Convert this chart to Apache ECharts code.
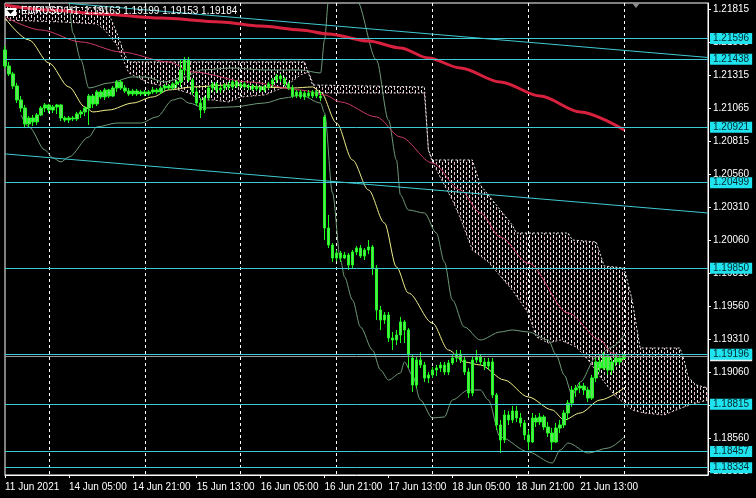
<!DOCTYPE html>
<html><head><meta charset="utf-8">
<script src="https://cdn.jsdelivr.net/npm/echarts@6/dist/echarts.min.js"></script>
<style>html,body{margin:0;padding:0;background:#000;}#c{width:756px;height:498px;}</style>
</head><body><div id="c"></div>
<script>
// ---- x axis (H1 bars, index 0 = 11 Jun 2021 13:00) ----
const barCount = 177;
const xTickIndex = [0,16,32,48,64,80,96,112,128,144];
const xTickLabels = ['11 Jun 2021','14 Jun 05:00','14 Jun 21:00','15 Jun 13:00','16 Jun 05:00','16 Jun 21:00','17 Jun 13:00','18 Jun 05:00','18 Jun 21:00','21 Jun 13:00'];
const dayGridIndex = [11,35,59,83,107,131,155];
// ---- y axis ----
const yMin = 1.18278, yMax = 1.21865;
const yTicks = [1.21815,1.21565,1.21315,1.21065,1.20815,1.20560,1.20310,1.20060,1.19810,1.19560,1.19310,1.19060,1.18810,1.18560,1.18310];
// ---- horizontal levels, bid ----
const levels = [1.21596,1.21438,1.20921,1.20499,1.19850,1.19196,1.18815,1.18457,1.18334];
const bid = 1.19184;
// ---- trend lines [barIndex, price] ----
const trendUpper = [[16,1.21862],[176,1.21451]];
const trendLower = [[0,1.20718],[176,1.20269]];
// ---- candles: [open, close, low, high] ----
const ohlc = [
[1.21508,1.21386,1.21371,1.21538],[1.21386,1.21326,1.21310,1.21417],[1.21326,1.21234,1.21212,1.21341],[1.21234,1.21128,1.21105,1.21257],
[1.21128,1.21067,1.21037,1.21158],[1.21067,1.20946,1.20915,1.21090],[1.20946,1.20991,1.20923,1.21006],[1.20991,1.20961,1.20930,1.21014],
[1.20961,1.21014,1.20938,1.21029],[1.21014,1.21067,1.21006,1.21082],[1.21067,1.21090,1.21037,1.21105],[1.21090,1.21052,1.21029,1.21098],
[1.21052,1.21075,1.21029,1.21090],[1.21075,1.21090,1.21022,1.21098],[1.21090,1.20991,1.20968,1.21098],[1.20991,1.20976,1.20961,1.21006],
[1.20976,1.20991,1.20953,1.21006],[1.20991,1.20984,1.20968,1.21006],[1.20984,1.21022,1.20968,1.21037],[1.21022,1.21037,1.20991,1.21052],
[1.21037,1.21067,1.21006,1.21082],[1.21067,1.21158,1.20938,1.21174],[1.21158,1.21098,1.21067,1.21174],[1.21098,1.21189,1.21082,1.21204],
[1.21189,1.21151,1.21136,1.21204],[1.21151,1.21204,1.21128,1.21219],[1.21204,1.21158,1.21143,1.21212],[1.21158,1.21219,1.21151,1.21234],
[1.21219,1.21265,1.21189,1.21280],[1.21265,1.21219,1.21204,1.21280],[1.21219,1.21196,1.21181,1.21242],[1.21196,1.21174,1.21158,1.21219],
[1.21174,1.21196,1.21158,1.21212],[1.21196,1.21174,1.21158,1.21212],[1.21174,1.21189,1.21158,1.21204],[1.21189,1.21174,1.21158,1.21204],
[1.21174,1.21189,1.21158,1.21204],[1.21189,1.21204,1.21174,1.21227],[1.21204,1.21189,1.21174,1.21219],[1.21189,1.21219,1.21174,1.21234],
[1.21219,1.21234,1.21196,1.21250],[1.21234,1.21219,1.21204,1.21250],[1.21219,1.21250,1.21204,1.21265],[1.21250,1.21265,1.21219,1.21280],
[1.21265,1.21356,1.21227,1.21432],[1.21356,1.21432,1.21326,1.21455],[1.21432,1.21280,1.21265,1.21455],[1.21280,1.21189,1.21166,1.21295],
[1.21189,1.21105,1.21082,1.21219],[1.21105,1.21052,1.20991,1.21143],[1.21052,1.21143,1.21029,1.21158],[1.21143,1.21219,1.21128,1.21234],
[1.21219,1.21250,1.21189,1.21265],[1.21250,1.21204,1.21181,1.21265],[1.21204,1.21219,1.21181,1.21242],[1.21219,1.21242,1.21196,1.21257],
[1.21242,1.21227,1.21204,1.21265],[1.21227,1.21265,1.21212,1.21280],[1.21265,1.21234,1.21219,1.21280],[1.21234,1.21250,1.21219,1.21265],
[1.21250,1.21227,1.21212,1.21265],[1.21227,1.21234,1.21204,1.21250],[1.21234,1.21212,1.21196,1.21250],[1.21212,1.21227,1.21196,1.21242],
[1.21227,1.21204,1.21189,1.21234],[1.21204,1.21227,1.21189,1.21242],[1.21227,1.21250,1.21212,1.21265],[1.21250,1.21280,1.21227,1.21295],
[1.21280,1.21310,1.21257,1.21326],[1.21310,1.21288,1.21265,1.21326],[1.21288,1.21250,1.21234,1.21303],[1.21250,1.21219,1.21204,1.21265],
[1.21219,1.21158,1.21143,1.21242],[1.21158,1.21189,1.21143,1.21204],[1.21189,1.21151,1.21136,1.21204],[1.21151,1.21181,1.21128,1.21196],
[1.21181,1.21158,1.21143,1.21204],[1.21158,1.21189,1.21143,1.21204],[1.21189,1.21158,1.21143,1.21204],[1.21158,1.21143,1.21120,1.21189],
[1.20999,1.20155,1.20064,1.21014],[1.20155,1.20026,1.20003,1.20254],[1.20026,1.19927,1.19897,1.20041],[1.19927,1.19965,1.19904,1.19988],
[1.19965,1.19927,1.19897,1.19980],[1.19927,1.19950,1.19920,1.19973],[1.19950,1.19874,1.19836,1.19965],[1.19874,1.19973,1.19851,1.19988],
[1.19973,1.20003,1.19950,1.20018],[1.20003,1.19942,1.19927,1.20026],[1.19942,1.19988,1.19912,1.20003],[1.19988,1.20011,1.19957,1.20064],
[1.20011,1.19851,1.19798,1.20026],[1.19851,1.19532,1.19456,1.19874],[1.19532,1.19456,1.19380,1.19562],[1.19456,1.19494,1.19426,1.19517],
[1.19494,1.19319,1.19289,1.19517],[1.19319,1.19304,1.19228,1.19365],[1.19304,1.19342,1.19266,1.19380],[1.19342,1.19441,1.19281,1.19479],
[1.19441,1.19380,1.19281,1.19456],[1.19380,1.19190,1.19091,1.19395],[1.19167,1.18962,1.18909,1.19190],[1.18962,1.19152,1.18939,1.19182],
[1.19152,1.19114,1.19091,1.19213],[1.19114,1.19015,1.18985,1.19137],[1.19015,1.19038,1.18977,1.19061],[1.19038,1.19076,1.19015,1.19099],
[1.19076,1.19091,1.19030,1.19114],[1.19091,1.19114,1.19061,1.19137],[1.19114,1.19061,1.19038,1.19137],[1.19061,1.19129,1.19038,1.19152],
[1.19129,1.19167,1.19114,1.19190],[1.19167,1.19198,1.19137,1.19228],[1.19198,1.19152,1.19129,1.19228],[1.19152,1.19061,1.19038,1.19175],
[1.19061,1.18901,1.18863,1.19091],[1.18901,1.19152,1.18878,1.19182],[1.19152,1.19175,1.19129,1.19228],[1.19175,1.19137,1.19114,1.19198],
[1.19137,1.19106,1.19076,1.19167],[1.19106,1.19137,1.19076,1.19167],[1.19137,1.18886,1.18863,1.19167],[1.18886,1.18658,1.18620,1.18901],
[1.18658,1.18544,1.18445,1.18696],[1.18544,1.18734,1.18521,1.18772],[1.18734,1.18696,1.18658,1.18764],[1.18696,1.18764,1.18673,1.18802],
[1.18764,1.18711,1.18681,1.18802],[1.18711,1.18673,1.18643,1.18749],[1.18673,1.18582,1.18544,1.18696],[1.18582,1.18529,1.18468,1.18620],
[1.18529,1.18711,1.18521,1.18749],[1.18711,1.18681,1.18643,1.18734],[1.18681,1.18719,1.18658,1.18749],[1.18719,1.18643,1.18620,1.18734],
[1.18643,1.18597,1.18567,1.18681],[1.18597,1.18529,1.18468,1.18635],[1.18529,1.18635,1.18521,1.18673],[1.18635,1.18658,1.18597,1.18696],
[1.18658,1.18749,1.18635,1.18772],[1.18749,1.18825,1.18696,1.18848],[1.18825,1.18924,1.18795,1.18954],[1.18924,1.18939,1.18871,1.18962],
[1.18939,1.18954,1.18901,1.18985],[1.18954,1.18924,1.18886,1.18977],[1.18924,1.18863,1.18833,1.18947],[1.18863,1.19015,1.18848,1.19038],
[1.19015,1.19137,1.18985,1.19167],[1.19137,1.19091,1.19061,1.19182],[1.19091,1.19182,1.19076,1.19213],[1.19182,1.19076,1.19038,1.19198],
[1.19076,1.19137,1.19038,1.19167],[1.19137,1.19167,1.19106,1.19190],[1.19167,1.19137,1.19114,1.19198],[1.19163,1.19184,1.19153,1.19199]
];
// ---- moving averages [barIndex, price] ----
const maSlow = [[0,1.21850],[11,1.21812],[24,1.21782],[39,1.21751],[54,1.21721],[64,1.21690],[74,1.21660],[81,1.21630],[91,1.21576],[99,1.21523],[106,1.21447],[114,1.21371],[124,1.21265],[134,1.21158],[144,1.21037],[155,1.20900]];
const maMid = [[0,1.21759],[9,1.21660],[19,1.21569],[29,1.21493],[41,1.21417],[47,1.21341],[61,1.21265],[74,1.21204],[80,1.21166],[84,1.21113],[93,1.20999],[99,1.20847],[107,1.20649],[114,1.20444],[119,1.20269],[124,1.20087],[131,1.19889],[141,1.19509],[149,1.19304],[152,1.19205],[155,1.19137]];
const maFast = [[0,1.21751],[6,1.21584],[11,1.21409],[16,1.21227],[20,1.21075],[22,1.21037],[26,1.21052],[32,1.21105],[37,1.21151],[41,1.21204],[47,1.21227],[56,1.21242],[64,1.21227],[72,1.21219],[77,1.21227],[79,1.21189],[83,1.20953],[87,1.20672],[91,1.20444],[95,1.20193],[98,1.19859],[101,1.19661],[107,1.19433],[111,1.19228],[115,1.19137],[119,1.19114],[125,1.19000],[131,1.18871],[137,1.18772],[140,1.18696],[144,1.18749],[149,1.18848],[155,1.18939]];
// ---- Bollinger bands [barIndex, price] ----
const bbUpper = [[16,1.21903],[17,1.21637],[19,1.21432],[21,1.21219],[26,1.21257],[32,1.21303],[35,1.21303],[40,1.21265],[45,1.21303],[49,1.21356],[57,1.21371],[65,1.21356],[74,1.21356],[79,1.21333],[80,1.21584],[81,1.21888],[84,1.22344],[86,1.22192],[88,1.21888],[93,1.21432],[96,1.20976],[98,1.20672],[99,1.20406],[101,1.20292],[105,1.20269],[108,1.20117],[110,1.19897],[112,1.19608],[115,1.19403],[119,1.19304],[124,1.19365],[127,1.19380],[131,1.19365],[136,1.19304],[138,1.19190],[140,1.19038],[142,1.18886],[144,1.18985],[148,1.19175],[152,1.19251],[155,1.19342]];
const bbLower = [[4,1.21014],[6,1.20923],[10,1.20748],[12,1.20687],[14,1.20657],[16,1.20695],[21,1.20847],[23,1.20923],[28,1.20953],[34,1.20953],[38,1.20999],[42,1.21128],[44,1.21143],[46,1.21105],[50,1.21067],[57,1.21075],[65,1.21105],[70,1.21143],[74,1.21166],[79,1.21105],[80,1.21029],[82,1.20421],[84,1.19912],[85,1.19783],[87,1.19608],[89,1.19403],[92,1.19228],[94,1.19076],[96,1.19000],[99,1.19053],[100,1.19137],[102,1.19038],[104,1.18848],[107,1.18711],[110,1.18719],[112,1.18848],[116,1.18924],[119,1.18924],[121,1.18848],[124,1.18567],[131,1.18453],[137,1.18369],[139,1.18468],[141,1.18521],[146,1.18445],[151,1.18483],[155,1.18567]];
// ---- Ichimoku cloud spans [barIndex, price] ----
const senkouA = [[0,1.21736],[14,1.21721],[23,1.21706],[25,1.21660],[28,1.21546],[31,1.21333],[36,1.21257],[41,1.21227],[46,1.21181],[49,1.21128],[52,1.21128],[56,1.21113],[59,1.21151],[65,1.21166],[70,1.21227],[74,1.21318],[76,1.21341],[78,1.21181],[105,1.21181],[106,1.20748],[107,1.20657],[110,1.20482],[112,1.20368],[114,1.20231],[117,1.19988],[121,1.19897],[127,1.19684],[131,1.19509],[133,1.19327],[136,1.19281],[139,1.19304],[143,1.19251],[146,1.19152],[150,1.18985],[153,1.18871],[155,1.18825],[157,1.18772],[160,1.18749],[165,1.18734],[168,1.18772],[170,1.18795],[173,1.18825],[176,1.18848]];
const senkouB = [[0,1.21842],[25,1.21827],[26,1.21782],[28,1.21637],[30,1.21470],[31,1.21417],[75,1.21417],[77,1.21242],[105,1.21227],[106,1.20748],[107,1.20672],[117,1.20672],[119,1.20482],[122,1.20368],[127,1.20178],[128,1.20117],[141,1.20117],[142,1.20064],[148,1.20049],[150,1.19866],[155,1.19851],[157,1.19608],[159,1.19243],[169,1.19243],[170,1.19152],[171,1.19023],[173,1.18962],[176,1.18939]];

const categories = [];
for (let i = 0; i < barCount; i++) categories.push(String(i));

const FONT = '"Liberation Sans", Arial, sans-serif';
const LEVEL_LINE = '#3fc9d2', LEVEL_BOX = '#1fe3ee';

// hatch pattern for the cloud (sparse vertical dashes)
const pc = document.createElement('canvas');
pc.width = 6; pc.height = 5;
const pctx = pc.getContext('2d');
pctx.fillStyle = '#f0eaec'; pctx.fillRect(1, 0, 1, 3);
pctx.fillStyle = '#e8bccb'; pctx.fillRect(4, 2, 1, 3);
const cloudPattern = { image: pc, repeat: 'repeat' };

const chart = echarts.init(document.getElementById('c'), null, { renderer: 'canvas' });

const levelMarks = [{ yAxis: bid, lineStyle: { color: '#9a9a9a' }, label: { backgroundColor: '#f0f0f0', color: '#000' } }]
  .concat(levels.map(v => ({ yAxis: v })));
const trendMarks = [trendUpper, trendLower].map(t => [
  { coord: t[0], lineStyle: { color: LEVEL_LINE, width: 1, type: 'solid' }, label: { show: false } },
  { coord: t[1] }
]);

const lineSeries = (data, color, width) => ({
  type: 'line', data: data, showSymbol: false, symbol: 'none', smooth: 0.3, smoothMonotone: 'x',
  lineStyle: { color: color, width: width }, silent: true, z: 3
});

chart.setOption({
  backgroundColor: '#000',
  animation: false,
  grid: { left: 5, right: 48, top: 3, bottom: 23, show: true, borderColor: '#ffffff', borderWidth: 1, backgroundColor: 'transparent' },
  xAxis: {
    type: 'category', data: categories, boundaryGap: false,
    axisLine: { show: true, lineStyle: { color: '#ffffff' } },
    axisTick: { show: true, interval: (i) => xTickIndex.includes(i), length: 3, lineStyle: { color: '#ffffff' } },
    axisLabel: {
      interval: (i) => xTickIndex.includes(i),
      formatter: (v, i) => { const k = xTickIndex.indexOf(Number(v)); return k >= 0 ? xTickLabels[k] : ''; },
      color: '#ffffff', align: 'left', fontSize: 10, margin: 7, fontFamily: FONT
    },
    splitLine: { show: true, interval: (i) => dayGridIndex.includes(i), lineStyle: { color: '#ffffff', type: [3, 3], width: 1 } }
  },
  yAxis: {
    type: 'value', position: 'right', min: yMin, max: yMax, scale: true,
    axisLine: { show: true, lineStyle: { color: '#ffffff' } },
    axisTick: { show: true, customValues: yTicks, length: 3, lineStyle: { color: '#ffffff' } },
    axisLabel: { customValues: yTicks, formatter: v => v.toFixed(5), color: '#ffffff', fontSize: 10, margin: 5, fontFamily: FONT },
    splitLine: { show: false }
  },
  series: [
    {
      type: 'custom', silent: true, z: 1,
      data: [[0, senkouA[0][1]]],
      renderItem: (params, api) => {
        const a = senkouA.map(p => api.coord(p));
        const b = senkouB.map(p => api.coord(p));
        const cs = params.coordSys;
        return {
          type: 'group',
          clipPath: { type: 'rect', shape: { x: cs.x, y: cs.y, width: cs.width, height: cs.height } },
          children: [
            { type: 'polygon', shape: { points: a.concat(b.slice().reverse()) }, style: { fill: cloudPattern } },
            { type: 'polyline', shape: { points: a }, style: { stroke: '#e2c4cc', lineWidth: 1, lineDash: [2, 2], fill: null } },
            { type: 'polyline', shape: { points: b }, style: { stroke: '#eeeeee', lineWidth: 1, lineDash: [2, 2], fill: null } }
          ]
        };
      }
    },
    lineSeries(bbUpper, '#6f9a78', 1),
    lineSeries(bbLower, '#6f9a78', 1),
    lineSeries(maFast, '#f2f08a', 1),
    lineSeries(maMid, '#cc3a66', 1),
    lineSeries(maSlow, '#d8213f', 3),
    {
      type: 'candlestick', data: ohlc, barWidth: 3, z: 4,
      itemStyle: { color: '#5fe05f', color0: '#5fe05f', borderColor: '#1cff1c', borderColor0: '#1cff1c', borderWidth: 1 },
      markLine: {
        silent: true, symbol: 'none', animation: false, precision: 5,
        lineStyle: { color: LEVEL_LINE, width: 1, type: 'solid' },
        label: {
          show: true, position: 'end', distance: 2, formatter: p => Number(p.value).toFixed(5),
          backgroundColor: LEVEL_BOX, color: '#06262b', fontSize: 10, fontFamily: FONT, padding: [1, 3, 0, 3]
        },
        data: levelMarks.concat(trendMarks)
      }
    }
  ],
  graphic: [
    { type: 'rect', shape: { x: 5, y: 8, width: 11, height: 8 }, style: { fill: '#ffffff' }, z: 100 },
    { type: 'polygon', shape: { points: [[7, 10], [14, 10], [10.5, 14]] }, style: { fill: '#000000' }, z: 101 },
    { type: 'text', x: 21, y: 6, style: { text: 'EURUSD,H1  1.19163 1.19199 1.19153 1.19184', fill: '#ffffff', font: '10px "Liberation Sans", Arial, sans-serif' }, z: 100 },
    { type: 'polygon', shape: { points: [[632, 3], [640, 3], [636, 8]] }, style: { fill: '#8c8c8c' }, z: 100 }
  ]
});
</script></body></html>
